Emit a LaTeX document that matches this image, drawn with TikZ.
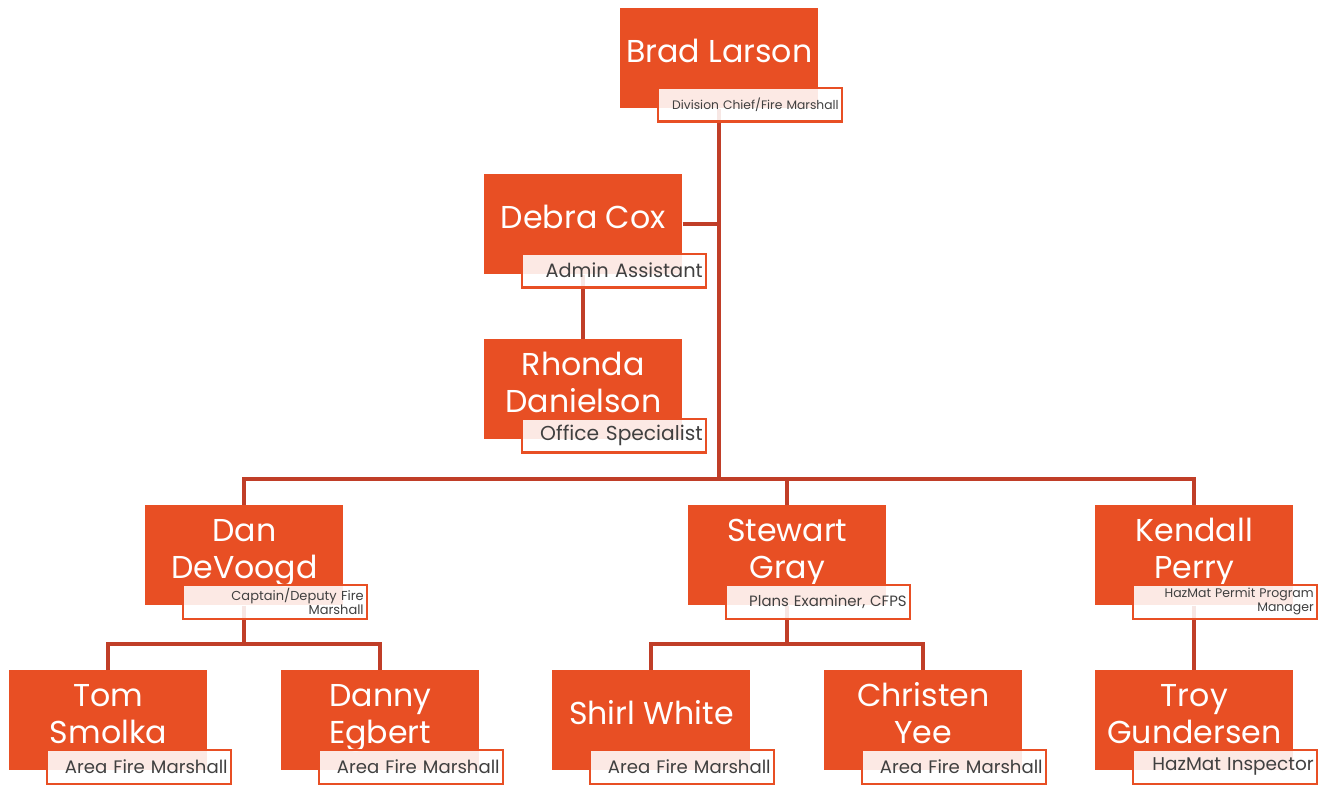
\documentclass[tikz,border=0pt]{standalone}
\usepackage{fontspec}
\setmainfont{Poppins}
\usetikzlibrary{backgrounds}

\definecolor{boxorange}{RGB}{232,79,36}
\definecolor{linered}{RGB}{192,62,40}
\definecolor{titlegray}{RGB}{64,64,64}

\tikzset{
  namebox/.style={anchor=north west, fill=boxorange, inner sep=0pt,
    minimum width=3.96cm, minimum height=2cm},
  nametext/.style={text=white, align=center, inner sep=0pt,
    font=\fontsize{18}{21.5}\selectfont},
  titlebox/.style={anchor=north west, draw=boxorange, line width=1.4pt,
    fill=white, fill opacity=0.88, text opacity=1, text=titlegray,
    text width=3.54cm, align=right, inner xsep=0.07cm, inner ysep=0pt,
    minimum height=0.68cm},
  conn/.style={draw=linered, line width=2.3pt}
}

% one person: id, x, y (top left), name, title font, title
\newcommand{\staff}[6]{%
  \node[namebox] (#1) at (#2,#3) {};
  \node[nametext] (#1n) at ([yshift=0.06cm]#1.center) {\strut#4\strut};
  \node[titlebox, font=\fontsize#5\selectfont] (#1t) at (#2+37,#3+78.5) {#6};
}

\begin{document}
\begin{tikzpicture}[x=0.02cm, y=-0.02cm]
\useasboundingbox (0,0) rectangle (1323,785);

% top
\staff{brad}{620}{8}{Brad Larson}{{7}{8}}{Division Chief/Fire Marshall}
\staff{debra}{484}{174}{Debra Cox}{{11}{12}}{Admin Assistant}
\staff{rhonda}{484}{339}{Rhonda\\Danielson}{{11.5}{12}}{Office Specialist}

% middle row
\staff{dan}{145}{505}{Dan\\DeVoogd}{{7.4}{7.9}}{Captain/Deputy Fire\\Marshall}
\staff{stewart}{688}{505}{Stewart\\Gray}{{8.5}{9}}{Plans Examiner, CFPS}
\staff{kendall}{1095}{505}{Kendall\\Perry}{{7.1}{7.9}}{HazMat Permit Program\\Manager}

% bottom row
\staff{tom}{9}{670}{Tom\\Smolka}{{10.3}{12}}{Area Fire Marshall}
\staff{danny}{281}{670}{Danny\\Egbert}{{10.3}{12}}{Area Fire Marshall}
\staff{shirl}{552}{670}{Shirl White}{{10.3}{12}}{Area Fire Marshall}
\staff{christen}{824}{670}{Christen\\Yee}{{10.3}{12}}{Area Fire Marshall}
\staff{troy}{1095}{670}{Troy\\Gundersen}{{10.5}{12}}{HazMat Inspector}

% connectors
\begin{scope}[on background layer]
  \draw[conn] (brad.south) -- ++(0,370) coordinate (hub);
  \draw[conn] (debra.east) -- (debra.east -| brad.south);
  \draw[conn] (debra.south) -- (rhonda.north);
  \draw[conn] (dan.north) |- (hub) -| (kendall.north);
  \draw[conn] (stewart.north) -- (stewart.north |- hub);

  \draw[conn] (dan.south) -- ++(0,38) coordinate (danhub);
  \draw[conn] (tom.north) |- (danhub) -| (danny.north);
  \draw[conn] (stewart.south) -- ++(0,38) coordinate (stewhub);
  \draw[conn] (shirl.north) |- (stewhub) -| (christen.north);
  \draw[conn] (kendall.south) -- (troy.north);
\end{scope}
\end{tikzpicture}
\end{document}
